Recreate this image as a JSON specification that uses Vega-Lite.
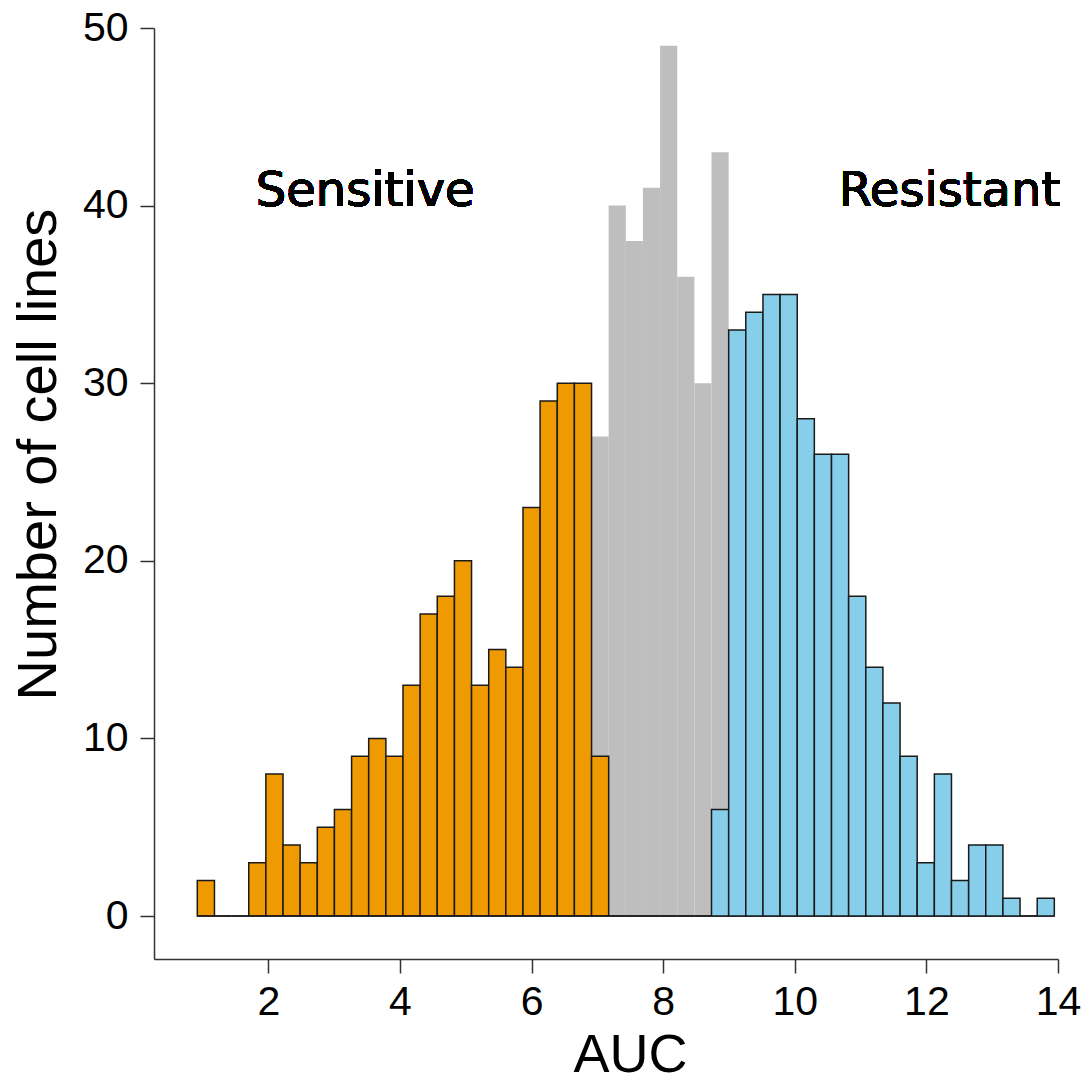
{
  "$schema": "https://vega.github.io/schema/vega-lite/v6.json",
  "width": 904,
  "height": 931,
  "autosize": {"type": "none"},
  "padding": {"left": 154, "top": 28, "right": 32, "bottom": 127},
  "background": "white",
  "config": {"view": {"stroke": null}},
  "data": {"values": [
    {"grp": "Intermediate", "lo": 6.911, "hi": 7.171, "n": 27},
    {"grp": "Intermediate", "lo": 7.171, "hi": 7.432, "n": 40},
    {"grp": "Intermediate", "lo": 7.432, "hi": 7.692, "n": 38},
    {"grp": "Intermediate", "lo": 7.692, "hi": 7.953, "n": 41},
    {"grp": "Intermediate", "lo": 7.953, "hi": 8.213, "n": 49},
    {"grp": "Intermediate", "lo": 8.213, "hi": 8.474, "n": 36},
    {"grp": "Intermediate", "lo": 8.474, "hi": 8.734, "n": 30},
    {"grp": "Intermediate", "lo": 8.734, "hi": 8.995, "n": 43},
    {"grp": "Sensitive", "lo": 0.919, "hi": 1.180, "n": 2},
    {"grp": "Sensitive", "lo": 1.180, "hi": 1.440, "n": 0},
    {"grp": "Sensitive", "lo": 1.440, "hi": 1.701, "n": 0},
    {"grp": "Sensitive", "lo": 1.701, "hi": 1.961, "n": 3},
    {"grp": "Sensitive", "lo": 1.961, "hi": 2.222, "n": 8},
    {"grp": "Sensitive", "lo": 2.222, "hi": 2.482, "n": 4},
    {"grp": "Sensitive", "lo": 2.482, "hi": 2.743, "n": 3},
    {"grp": "Sensitive", "lo": 2.743, "hi": 3.003, "n": 5},
    {"grp": "Sensitive", "lo": 3.003, "hi": 3.264, "n": 6},
    {"grp": "Sensitive", "lo": 3.264, "hi": 3.524, "n": 9},
    {"grp": "Sensitive", "lo": 3.524, "hi": 3.785, "n": 10},
    {"grp": "Sensitive", "lo": 3.785, "hi": 4.045, "n": 9},
    {"grp": "Sensitive", "lo": 4.045, "hi": 4.306, "n": 13},
    {"grp": "Sensitive", "lo": 4.306, "hi": 4.566, "n": 17},
    {"grp": "Sensitive", "lo": 4.566, "hi": 4.827, "n": 18},
    {"grp": "Sensitive", "lo": 4.827, "hi": 5.087, "n": 20},
    {"grp": "Sensitive", "lo": 5.087, "hi": 5.348, "n": 13},
    {"grp": "Sensitive", "lo": 5.348, "hi": 5.608, "n": 15},
    {"grp": "Sensitive", "lo": 5.608, "hi": 5.869, "n": 14},
    {"grp": "Sensitive", "lo": 5.869, "hi": 6.129, "n": 23},
    {"grp": "Sensitive", "lo": 6.129, "hi": 6.390, "n": 29},
    {"grp": "Sensitive", "lo": 6.390, "hi": 6.650, "n": 30},
    {"grp": "Sensitive", "lo": 6.650, "hi": 6.911, "n": 30},
    {"grp": "Sensitive", "lo": 6.911, "hi": 7.171, "n": 9},
    {"grp": "Sensitive", "lo": 7.171, "hi": 7.432, "n": 0},
    {"grp": "Sensitive", "lo": 7.432, "hi": 7.692, "n": 0},
    {"grp": "Sensitive", "lo": 7.692, "hi": 7.953, "n": 0},
    {"grp": "Sensitive", "lo": 7.953, "hi": 8.213, "n": 0},
    {"grp": "Sensitive", "lo": 8.213, "hi": 8.474, "n": 0},
    {"grp": "Sensitive", "lo": 8.474, "hi": 8.734, "n": 0},
    {"grp": "Sensitive", "lo": 8.734, "hi": 8.995, "n": 0},
    {"grp": "Sensitive", "lo": 8.995, "hi": 9.255, "n": 0},
    {"grp": "Sensitive", "lo": 9.255, "hi": 9.516, "n": 0},
    {"grp": "Sensitive", "lo": 9.516, "hi": 9.776, "n": 0},
    {"grp": "Sensitive", "lo": 9.776, "hi": 10.037, "n": 0},
    {"grp": "Sensitive", "lo": 10.037, "hi": 10.297, "n": 0},
    {"grp": "Sensitive", "lo": 10.297, "hi": 10.558, "n": 0},
    {"grp": "Sensitive", "lo": 10.558, "hi": 10.818, "n": 0},
    {"grp": "Sensitive", "lo": 10.818, "hi": 11.079, "n": 0},
    {"grp": "Sensitive", "lo": 11.079, "hi": 11.339, "n": 0},
    {"grp": "Sensitive", "lo": 11.339, "hi": 11.600, "n": 0},
    {"grp": "Sensitive", "lo": 11.600, "hi": 11.860, "n": 0},
    {"grp": "Sensitive", "lo": 11.860, "hi": 12.121, "n": 0},
    {"grp": "Sensitive", "lo": 12.121, "hi": 12.381, "n": 0},
    {"grp": "Sensitive", "lo": 12.381, "hi": 12.642, "n": 0},
    {"grp": "Sensitive", "lo": 12.642, "hi": 12.902, "n": 0},
    {"grp": "Sensitive", "lo": 12.902, "hi": 13.163, "n": 0},
    {"grp": "Sensitive", "lo": 13.163, "hi": 13.423, "n": 0},
    {"grp": "Sensitive", "lo": 13.423, "hi": 13.684, "n": 0},
    {"grp": "Sensitive", "lo": 13.684, "hi": 13.944, "n": 0},
    {"grp": "Resistant", "lo": 0.919, "hi": 1.180, "n": 0},
    {"grp": "Resistant", "lo": 1.180, "hi": 1.440, "n": 0},
    {"grp": "Resistant", "lo": 1.440, "hi": 1.701, "n": 0},
    {"grp": "Resistant", "lo": 1.701, "hi": 1.961, "n": 0},
    {"grp": "Resistant", "lo": 1.961, "hi": 2.222, "n": 0},
    {"grp": "Resistant", "lo": 2.222, "hi": 2.482, "n": 0},
    {"grp": "Resistant", "lo": 2.482, "hi": 2.743, "n": 0},
    {"grp": "Resistant", "lo": 2.743, "hi": 3.003, "n": 0},
    {"grp": "Resistant", "lo": 3.003, "hi": 3.264, "n": 0},
    {"grp": "Resistant", "lo": 3.264, "hi": 3.524, "n": 0},
    {"grp": "Resistant", "lo": 3.524, "hi": 3.785, "n": 0},
    {"grp": "Resistant", "lo": 3.785, "hi": 4.045, "n": 0},
    {"grp": "Resistant", "lo": 4.045, "hi": 4.306, "n": 0},
    {"grp": "Resistant", "lo": 4.306, "hi": 4.566, "n": 0},
    {"grp": "Resistant", "lo": 4.566, "hi": 4.827, "n": 0},
    {"grp": "Resistant", "lo": 4.827, "hi": 5.087, "n": 0},
    {"grp": "Resistant", "lo": 5.087, "hi": 5.348, "n": 0},
    {"grp": "Resistant", "lo": 5.348, "hi": 5.608, "n": 0},
    {"grp": "Resistant", "lo": 5.608, "hi": 5.869, "n": 0},
    {"grp": "Resistant", "lo": 5.869, "hi": 6.129, "n": 0},
    {"grp": "Resistant", "lo": 6.129, "hi": 6.390, "n": 0},
    {"grp": "Resistant", "lo": 6.390, "hi": 6.650, "n": 0},
    {"grp": "Resistant", "lo": 6.650, "hi": 6.911, "n": 0},
    {"grp": "Resistant", "lo": 6.911, "hi": 7.171, "n": 0},
    {"grp": "Resistant", "lo": 7.171, "hi": 7.432, "n": 0},
    {"grp": "Resistant", "lo": 7.432, "hi": 7.692, "n": 0},
    {"grp": "Resistant", "lo": 7.692, "hi": 7.953, "n": 0},
    {"grp": "Resistant", "lo": 7.953, "hi": 8.213, "n": 0},
    {"grp": "Resistant", "lo": 8.213, "hi": 8.474, "n": 0},
    {"grp": "Resistant", "lo": 8.474, "hi": 8.734, "n": 0},
    {"grp": "Resistant", "lo": 8.734, "hi": 8.995, "n": 6},
    {"grp": "Resistant", "lo": 8.995, "hi": 9.255, "n": 33},
    {"grp": "Resistant", "lo": 9.255, "hi": 9.516, "n": 34},
    {"grp": "Resistant", "lo": 9.516, "hi": 9.776, "n": 35},
    {"grp": "Resistant", "lo": 9.776, "hi": 10.037, "n": 35},
    {"grp": "Resistant", "lo": 10.037, "hi": 10.297, "n": 28},
    {"grp": "Resistant", "lo": 10.297, "hi": 10.558, "n": 26},
    {"grp": "Resistant", "lo": 10.558, "hi": 10.818, "n": 26},
    {"grp": "Resistant", "lo": 10.818, "hi": 11.079, "n": 18},
    {"grp": "Resistant", "lo": 11.079, "hi": 11.339, "n": 14},
    {"grp": "Resistant", "lo": 11.339, "hi": 11.600, "n": 12},
    {"grp": "Resistant", "lo": 11.600, "hi": 11.860, "n": 9},
    {"grp": "Resistant", "lo": 11.860, "hi": 12.121, "n": 3},
    {"grp": "Resistant", "lo": 12.121, "hi": 12.381, "n": 8},
    {"grp": "Resistant", "lo": 12.381, "hi": 12.642, "n": 2},
    {"grp": "Resistant", "lo": 12.642, "hi": 12.902, "n": 4},
    {"grp": "Resistant", "lo": 12.902, "hi": 13.163, "n": 4},
    {"grp": "Resistant", "lo": 13.163, "hi": 13.423, "n": 1},
    {"grp": "Resistant", "lo": 13.423, "hi": 13.684, "n": 0},
    {"grp": "Resistant", "lo": 13.684, "hi": 13.944, "n": 1}
  ]},
  "layer": [
    {
      "encoding": {
        "x": {
          "field": "lo", "type": "quantitative",
          "scale": {"domain": [0.261, 14], "nice": false, "zero": false},
          "axis": {
            "values": [2, 4, 6, 8, 10, 12, 14],
            "format": "d",
            "title": "AUC",
            "grid": false,
            "domainColor": "#333333", "domainWidth": 1.5,
            "tickColor": "#333333", "tickWidth": 1.5, "tickSize": 14,
            "labelFont": "Liberation Sans", "labelFontSize": 41, "labelColor": "black",
            "labelPadding": 9, "labelFlush": false, "labelOverlap": false,
            "titleFont": "Liberation Sans", "titleFontSize": 54, "titleFontWeight": "normal", "titleColor": "black",
            "titleX": 476, "titleY": 112, "titleAlign": "center", "titleBaseline": "alphabetic", "titleAnchor": null
          }
        },
        "x2": {"field": "hi"},
        "y": {
          "field": "n", "type": "quantitative",
          "scale": {"domain": [-2.42, 50], "nice": false, "zero": false},
          "axis": {
            "values": [0, 10, 20, 30, 40, 50],
            "format": "d",
            "title": "Number of cell lines",
            "grid": false,
            "domainColor": "#333333", "domainWidth": 1.5,
            "tickColor": "#333333", "tickWidth": 1.5, "tickSize": 14,
            "labelFont": "Liberation Sans", "labelFontSize": 41, "labelColor": "black",
            "labelPadding": 12, "labelFlush": false, "labelOverlap": false,
            "titleFont": "Liberation Sans", "titleFontSize": 56, "titleFontWeight": "normal", "titleColor": "black",
            "titleAngle": -90, "titleX": -99, "titleY": 426, "titleAlign": "center", "titleBaseline": "alphabetic", "titleAnchor": null
          }
        },
        "y2": {"datum": 0}
      },
      "layer": [
        {
          "transform": [{"filter": "datum.grp === 'Intermediate'"}],
          "mark": {"type": "rect", "fill": "#BEBEBE", "strokeWidth": 0}
        },
        {
          "transform": [{"filter": "datum.grp === 'Sensitive'"}],
          "mark": {"type": "rect", "fill": "#EE9A00", "stroke": "#1a1a1a", "strokeWidth": 1.5}
        },
        {
          "transform": [{"filter": "datum.grp === 'Resistant'"}],
          "mark": {"type": "rect", "fill": "#87CEEB", "stroke": "#1a1a1a", "strokeWidth": 1.5}
        }
      ]
    },
    {
      "mark": {"type": "text", "text": "Sensitive", "font": "DejaVu Sans", "fontSize": 48, "color": "black", "align": "center", "baseline": "alphabetic"},
      "encoding": {"x": {"datum": 3.47, "type": "quantitative"}, "y": {"datum": 40, "type": "quantitative"}}
    },
    {
      "mark": {"type": "text", "text": "Resistant", "font": "DejaVu Sans", "fontSize": 48, "color": "black", "align": "center", "baseline": "alphabetic"},
      "encoding": {"x": {"datum": 12.35, "type": "quantitative"}, "y": {"datum": 40, "type": "quantitative"}}
    }
  ]
}
